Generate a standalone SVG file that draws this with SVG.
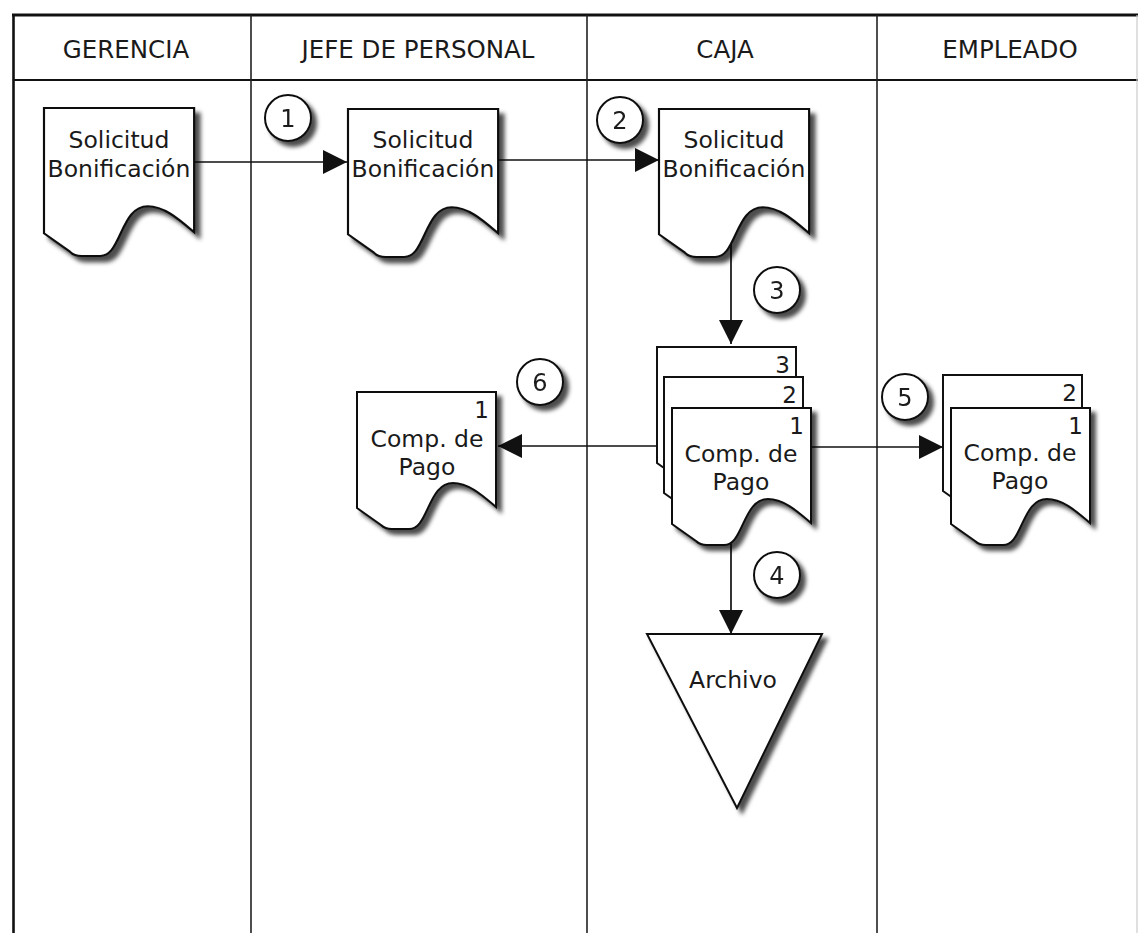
<svg xmlns="http://www.w3.org/2000/svg" xmlns:xlink="http://www.w3.org/1999/xlink" width="1138" height="933" viewBox="0 0 1138 933">
  <style>
    .frame { stroke: #111; fill: none; }
    .lane { stroke: #222; stroke-width: 1.6; fill: none; }
    .hdr { font-family: "DejaVu Sans", Verdana, sans-serif; font-size: 24.5px; fill: #1a1a1a; text-anchor: middle; }
    .txt { font-family: "DejaVu Sans", Verdana, sans-serif; font-size: 23.5px; fill: #1a1a1a; text-anchor: middle; }
    .num { font-family: "DejaVu Sans", Verdana, sans-serif; font-size: 23px; fill: #1a1a1a; text-anchor: end; }
    .step { font-family: "DejaVu Sans", Verdana, sans-serif; font-size: 24px; fill: #1a1a1a; text-anchor: middle; }
    .shape { fill: #fff; stroke: #111; stroke-width: 2; }
    .conn { stroke: #111; stroke-width: 1.7; fill: none; }
  </style>
  <defs>
    <filter id="shadow" x="-20%" y="-20%" width="150%" height="150%">
      <feDropShadow dx="5" dy="5" stdDeviation="2.2" flood-color="#000" flood-opacity="0.7"/>
    </filter>
    <!-- document symbol, 139 wide, wavy lower edge -->
    <path id="doc" d="M0,0 H139 V115 C126,104 112,91 96,91 C83,91 77,103 71,116 C65,129 61,137 52,137 L35,137 Q28,137 24,133 L0,116 Z"/>
    <marker id="arrow" markerUnits="userSpaceOnUse" markerWidth="24" markerHeight="24" refX="24" refY="12" orient="auto">
      <path d="M0,0 L24,12 L0,24 Z" fill="#111"/>
    </marker>
  </defs>

  <rect width="1138" height="933" fill="#fff"/>

  <!-- swimlane frame -->
  <g id="lanes">
    <line class="frame" x1="12" y1="15" x2="1138" y2="15" stroke-width="3"/>
    <line class="frame" x1="13.5" y1="14" x2="13.5" y2="933" stroke-width="2.6"/>
    <line class="frame" x1="13" y1="80" x2="1138" y2="80" stroke-width="2"/>
    <line class="lane" x1="251" y1="15" x2="251" y2="933"/>
    <line class="lane" x1="587" y1="15" x2="587" y2="933"/>
    <line class="lane" x1="877" y1="15" x2="877" y2="933"/>
    <line x1="1137" y1="15" x2="1137" y2="933" stroke="#ccc" stroke-width="1.2"/>
    <text class="hdr" x="126" y="58">GERENCIA</text>
    <text class="hdr" x="418" y="58">JEFE DE PERSONAL</text>
    <text class="hdr" x="725" y="58">CAJA</text>
    <text class="hdr" x="1010" y="58">EMPLEADO</text>
  </g>

  <!-- flow connectors -->
  <g id="connectors">
    <line class="conn" x1="194" y1="162" x2="347" y2="162" marker-end="url(#arrow)"/>
    <line class="conn" x1="498" y1="160" x2="659" y2="160" marker-end="url(#arrow)"/>
    <line class="conn" x1="731" y1="230" x2="731" y2="344" marker-end="url(#arrow)"/>
    <line class="conn" x1="700" y1="446" x2="498" y2="446" marker-end="url(#arrow)"/>
    <line class="conn" x1="800" y1="447" x2="943" y2="447" marker-end="url(#arrow)"/>
    <line class="conn" x1="731" y1="535" x2="731" y2="634" marker-end="url(#arrow)"/>
  </g>

  <!-- step numbers -->
  <g id="step1" filter="url(#shadow)"><circle class="shape" cx="288" cy="118" r="23" stroke-width="1.4"/><text class="step" x="288" y="127">1</text></g>
  <g id="step2" filter="url(#shadow)"><circle class="shape" cx="620" cy="120" r="23" stroke-width="1.4"/><text class="step" x="620" y="129">2</text></g>
  <g id="step3" filter="url(#shadow)"><circle class="shape" cx="777" cy="290" r="23" stroke-width="1.4"/><text class="step" x="777" y="299">3</text></g>
  <g id="step4" filter="url(#shadow)"><circle class="shape" cx="777" cy="575" r="23" stroke-width="1.4"/><text class="step" x="777" y="584">4</text></g>
  <g id="step5" filter="url(#shadow)"><circle class="shape" cx="905" cy="397" r="23" stroke-width="1.4"/><text class="step" x="905" y="406">5</text></g>
  <g id="step6" filter="url(#shadow)"><circle class="shape" cx="540" cy="382" r="23" stroke-width="1.4"/><text class="step" x="540" y="391">6</text></g>

  <!-- request documents -->
  <g id="solicitud-gerencia">
    <use xlink:href="#doc" class="shape" transform="translate(44,108) scale(1.08)" filter="url(#shadow)"/>
    <text class="txt" x="119" y="148">Solicitud</text>
    <text class="txt" x="119" y="177">Bonificación</text>
  </g>
  <g id="solicitud-jefe">
    <use xlink:href="#doc" class="shape" transform="translate(348,109) scale(1.08)" filter="url(#shadow)"/>
    <text class="txt" x="423" y="148">Solicitud</text>
    <text class="txt" x="423" y="177">Bonificación</text>
  </g>
  <g id="solicitud-caja">
    <use xlink:href="#doc" class="shape" transform="translate(659,109) scale(1.08)" filter="url(#shadow)"/>
    <text class="txt" x="734" y="148">Solicitud</text>
    <text class="txt" x="734" y="177">Bonificación</text>
  </g>

  <!-- payment voucher, three copies -->
  <g id="comprobante-caja">
    <use xlink:href="#doc" class="shape" transform="translate(657,347)"/>
    <text class="num" x="790" y="373">3</text>
    <use xlink:href="#doc" class="shape" transform="translate(664,377)"/>
    <text class="num" x="797" y="403">2</text>
    <use xlink:href="#doc" class="shape" transform="translate(672,408)" filter="url(#shadow)"/>
    <text class="num" x="804" y="434">1</text>
    <text class="txt" x="741" y="462">Comp. de</text>
    <text class="txt" x="741" y="490">Pago</text>
  </g>

  <g id="comprobante-jefe">
    <use xlink:href="#doc" class="shape" transform="translate(357,392)" filter="url(#shadow)"/>
    <text class="num" x="489" y="418">1</text>
    <text class="txt" x="427" y="447">Comp. de</text>
    <text class="txt" x="427" y="475">Pago</text>
  </g>

  <g id="comprobante-empleado">
    <use xlink:href="#doc" class="shape" transform="translate(943,375)"/>
    <text class="num" x="1077" y="401">2</text>
    <use xlink:href="#doc" class="shape" transform="translate(951,408)" filter="url(#shadow)"/>
    <text class="num" x="1083" y="434">1</text>
    <text class="txt" x="1020" y="461">Comp. de</text>
    <text class="txt" x="1020" y="489">Pago</text>
  </g>

  <!-- archive -->
  <g id="archivo">
    <polygon class="shape" points="647,634 822,634 737,808" filter="url(#shadow)"/>
    <text class="txt" x="733" y="688">Archivo</text>
  </g>
</svg>
